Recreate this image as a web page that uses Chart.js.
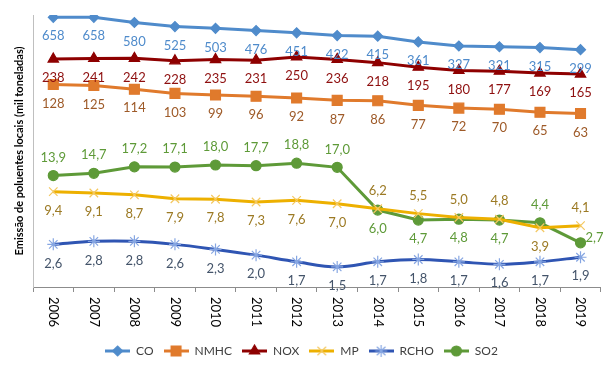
<!DOCTYPE html>
<html>
<head>
<meta charset="utf-8">
<script src="https://cdn.jsdelivr.net/npm/chart.js@4.4.1/dist/chart.umd.min.js"></script>
<style>
  html, body { margin: 0; padding: 0; background: #fff; }
</style>
</head>
<body>
<canvas id="chart" width="609" height="371"></canvas>
<script>
// anos (eixo x)
var years = ['2006', '2007', '2008', '2009', '2010', '2011', '2012', '2013', '2014', '2015', '2016', '2017', '2018', '2019'];

// emissões em mil toneladas
var co = [658, 658, 580, 525, 503, 476, 451, 422, 415, 361, 327, 321, 315, 299];
var nmhc = [128, 125, 114, 103, 99, 96, 92, 87, 86, 77, 72, 70, 65, 63];
var nox = [238, 241, 242, 228, 235, 231, 250, 236, 218, 195, 180, 177, 169, 165];
var mp = [9.4, 9.1, 8.7, 7.9, 7.8, 7.3, 7.6, 7.0, 6.2, 5.5, 5.0, 4.8, 3.9, 4.1];
var rcho = [2.6, 2.8, 2.8, 2.6, 2.3, 2.0, 1.7, 1.5, 1.7, 1.8, 1.7, 1.6, 1.7, 1.9];
var so2 = [13.9, 14.7, 17.2, 17.1, 18.0, 17.7, 18.8, 17.0, 6.0, 4.7, 4.8, 4.7, 4.4, 2.7];

// where each value label goes (above / below / right of the point)
var so2Pos = ['above', 'above', 'above', 'above', 'above', 'above', 'above', 'above', 'below', 'below', 'below', 'below', 'above', 'right'];
var mpPos = ['below', 'below', 'below', 'below', 'below', 'below', 'below', 'below', 'above', 'above', 'above', 'above', 'below', 'above'];

var FONT = 'Lato, "Open Sans", sans-serif';

// small line + marker picture for the legend
function legendIcon(lineColor, style, markerColor, radius) {
    var c = document.createElement('canvas');
    c.width = 25;
    c.height = 14;
    var g = c.getContext('2d');
    g.strokeStyle = lineColor;
    g.lineWidth = 3;
    g.beginPath();
    g.moveTo(0, 7);
    g.lineTo(25, 7);
    g.stroke();
    g.fillStyle = markerColor;
    g.strokeStyle = markerColor;
    g.lineWidth = 1.2;
    Chart.helpers.drawPoint(g, { pointStyle: style, radius: radius, borderWidth: 1.2, rotation: 0 }, 12.5, 7);
    return c;
}

function makeSet(label, data, color, style, radius, markerColor, labelColor, decimals, positions, tension) {
    return {
        label: label,
        data: data,
        borderColor: color,
        backgroundColor: markerColor,
        borderWidth: 3,
        pointStyle: style,
        pointRadius: radius,
        pointHoverRadius: radius,
        pointBackgroundColor: markerColor,
        pointBorderColor: markerColor,
        pointBorderWidth: 1.2,
        tension: tension,
        labelColor: labelColor,
        decimals: decimals,
        labelPos: positions,
        icon: legendIcon(color, style, markerColor, radius)
    };
}

var datasets = [
    makeSet('CO', co, '#4F8BCB', 'rectRot', 5, '#4F8BCB', '#4F8BCB', 0, null, 0),
    makeSet('NMHC', nmhc, '#E07A2C', 'rect', 7, '#E07A2C', '#9E5A28', 0, null, 0),
    makeSet('NOX', nox, '#8E0000', 'triangle', 6, '#8E0000', '#8E0F0F', 0, null, 0),
    makeSet('MP', mp, '#EDB000', 'crossRot', 6, '#F4C860', '#9C7A24', 1, mpPos, 0),
    makeSet('RCHO', rcho, '#2F55B3', 'star', 6, '#86A6E2', '#44546A', 1, null, 0.35),
    makeSet('SO2', so2, '#5E9A38', 'circle', 5, '#5E9A38', '#5E9A38', 1, so2Pos, 0)
];

// value labels next to every point
var valueLabels = {
    id: 'valueLabels',
    afterDatasetsDraw: function (chart) {
        var ctx = chart.ctx;
        ctx.save();
        ctx.font = '13px ' + FONT;
        chart.data.datasets.forEach(function (ds, i) {
            var meta = chart.getDatasetMeta(i);
            ctx.fillStyle = ds.labelColor;
            meta.data.forEach(function (pt, j) {
                var txt = ds.decimals ? ds.data[j].toFixed(ds.decimals).replace('.', ',') : String(ds.data[j]);
                var pos = ds.labelPos ? ds.labelPos[j] : 'below';
                ctx.textBaseline = 'middle';
                if (pos === 'right') {
                    ctx.textAlign = 'left';
                    ctx.fillText(txt, pt.x + 5, pt.y - 5);
                } else if (pos === 'above') {
                    ctx.textAlign = 'center';
                    ctx.fillText(txt, pt.x, pt.y - 18);
                } else {
                    ctx.textAlign = 'center';
                    ctx.fillText(txt, pt.x, pt.y + 19);
                }
            });
        });
        ctx.restore();
    }
};

// year labels, turned to read from top to bottom
var yearLabels = {
    id: 'yearLabels',
    afterDraw: function (chart) {
        var ctx = chart.ctx;
        var xs = chart.scales.x;
        ctx.save();
        ctx.font = '13px ' + FONT;
        ctx.fillStyle = '#000000';
        ctx.textAlign = 'left';
        ctx.textBaseline = 'middle';
        years.forEach(function (y, i) {
            ctx.save();
            ctx.translate(xs.getPixelForValue(i), xs.top + 10);
            ctx.rotate(Math.PI / 2);
            ctx.fillText(y, 0, 0);
            ctx.restore();
        });
        ctx.restore();
    }
};

var chart = new Chart(document.getElementById('chart'), {
    type: 'line',
    data: { labels: years, datasets: datasets },
    options: {
        responsive: false,
        animation: false,
        layout: { padding: { top: 15, right: 6, bottom: 4, left: 0 } },
        plugins: {
            tooltip: { enabled: false },
            legend: {
                position: 'bottom',
                labels: {
                    usePointStyle: true,
                    pointStyleWidth: 25,
                    padding: 10,
                    color: '#404040',
                    font: { family: FONT, size: 12 },
                    generateLabels: function (chart) {
                        var items = Chart.defaults.plugins.legend.labels.generateLabels(chart);
                        items.forEach(function (it) {
                            it.pointStyle = chart.data.datasets[it.datasetIndex].icon;
                        });
                        return items;
                    }
                }
            }
        },
        scales: {
            x: {
                offset: true,
                grid: { display: true, drawOnChartArea: false, drawTicks: true, tickLength: 5, color: '#8C8C8C', offset: true },
                border: { display: true, color: '#8C8C8C' },
                ticks: { display: false },
                afterFit: function (scale) { scale.height = 48; }
            },
            y: {
                type: 'logarithmic',
                min: 0.92,
                max: 696,
                grid: { display: false },
                border: { display: true, color: '#BFBFBF' },
                ticks: { display: false },
                title: {
                    display: true,
                    text: 'Emissão de poluentes locais (mil toneladas)',
                    color: '#000000',
                    font: { family: FONT, size: 11, weight: 'bold' },
                    padding: { top: 13, bottom: 0 }
                },
                afterFit: function (scale) { scale.width = 33; }
            }
        }
    },
    plugins: [valueLabels, yearLabels]
});
</script>
</body>
</html>
